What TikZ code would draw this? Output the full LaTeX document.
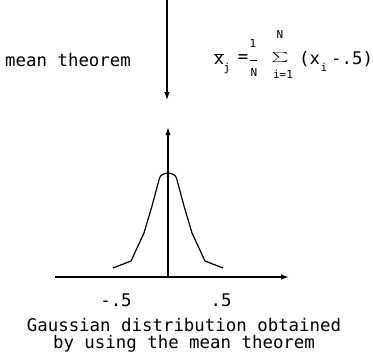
\documentclass[tikz,border=0pt]{standalone}
\usepackage{fontspec}
\newfontfamily\plotfont{DejaVu Sans Mono}
\usetikzlibrary{arrows.meta}
\tikzset{
  txt/.style={font=\plotfont\fontsize{17.4}{20}\selectfont, inner sep=0pt},
  sml/.style={font=\plotfont\fontsize{11}{13}\selectfont, inner sep=0pt},
  axis/.style={line width=1.4pt, -{Latex[length=8pt,width=5.5pt]}},
  flow/.style={line width=1.1pt, -{Latex[length=8pt,width=5.5pt]}},
  curve/.style={line width=1.2pt, line join=round}
}
\begin{document}
\begin{tikzpicture}[x=1pt,y=-1pt]
\useasboundingbox (0,0) rectangle (373,362);
% top arrow
\coordinate (ftop) at (167,0);
\coordinate (fbot) at (167,100);
\draw[flow] (ftop) -- (fbot);
\node[txt, anchor=west] (mean) at (5,60) {mean theorem};
% formula
\node[txt] (xb) at (219,59) {$\overline{\hbox{\plotfont\fontsize{17}{20}\selectfont x}}$};
\node[sml] (xj) at (227,68) {j};
\node[txt] (eq) at (243,59) {=};
\node[sml] (one) at (253,43) {1};
\draw[line width=1pt] (250,60) -- (257,60);
\node[sml] (nd) at (254,72) {N};
\node[font=\fontsize{16}{16}\selectfont, inner sep=0pt, xscale=1.6] (sig) at (280,57) {$\sum$};
\node[sml] (nt) at (280,34) {N};
\node[sml] (ieq) at (283,74) {i=1};
\node[txt, anchor=west] (px) at (299,59) {(x};
\node[sml] (xi) at (324,67) {i};
\node[txt, anchor=west] (rest) at (331,59) {-.5)};
% axes
\coordinate (xl) at (55,277);
\coordinate (xr) at (289,277);
\coordinate (o) at (168,277);
\coordinate (yt) at (168,127);
\draw[axis] (xl) -- (xr);
\draw[axis] (o) -- (yt);
% curve
\draw[curve] (113,268) -- (131,261) -- (144,233) -- (152,206) -- (159.5,178)
  .. controls (161.5,171.5) and (174.5,171.5) .. (176.5,178)
  -- (184,206) -- (192,233) -- (205,261) -- (223,268);
% labels
\node[txt] (lm) at (116,300) {-.5};
\node[txt] (lp) at (221,300) {.5};
\node[txt] (cap1) at (184,325) {Gaussian distribution obtained};
\node[txt] (cap2) at (184,344) {by using the mean theorem};
\end{tikzpicture}
\end{document}
